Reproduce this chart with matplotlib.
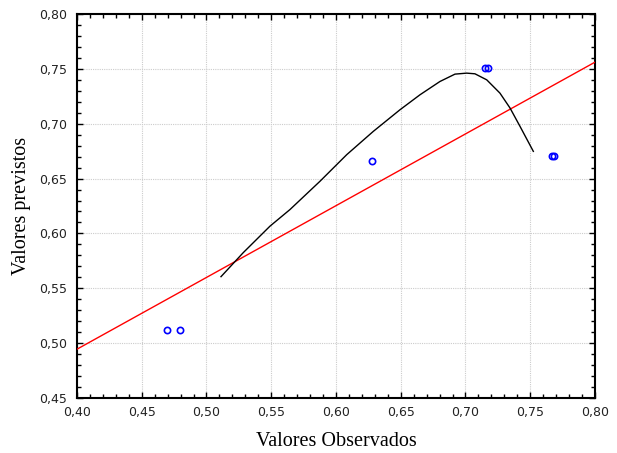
import matplotlib
matplotlib.use('Agg')
import matplotlib.pyplot as plt
import numpy as np
from matplotlib.ticker import MultipleLocator

# observed vs predicted points
obs = [0.4693, 0.4795, 0.6276, 0.7150, 0.7176, 0.7672, 0.7684]
pred = [0.5121, 0.5121, 0.6657, 0.7510, 0.7510, 0.6703, 0.6703]

# fitted curve
curve_x = [0.5112, 0.5284, 0.5490, 0.5645, 0.5876, 0.6083, 0.6288, 0.6494,
           0.6649, 0.6803, 0.6919, 0.7009, 0.7073, 0.7164, 0.7266, 0.7344,
           0.7421, 0.7524]
curve_y = [0.5606, 0.5825, 0.6066, 0.6218, 0.6475, 0.6718, 0.6930, 0.7127,
           0.7264, 0.7385, 0.7452, 0.7461, 0.7455, 0.7400, 0.7279, 0.7143,
           0.6976, 0.6748]

# reference line
line_intercept = 0.4945
line_slope = 0.654
line_x = [0.40, 0.80]

fig = plt.figure(figsize=(6.17, 4.53), dpi=100)
ax = fig.add_axes([0.1248, 0.1214, 0.8395, 0.8477])

lx = np.array(line_x)
ax.plot(lx, line_intercept + line_slope * (lx - 0.40), color='#ff0000', lw=1.0, zorder=3)
ax.plot(curve_x, curve_y, color='black', lw=1.0, zorder=3)
ax.plot(obs, pred, linestyle='none', marker='o', markersize=4.5,
        markerfacecolor='none', markeredgecolor='#0000ff', markeredgewidth=1.2, zorder=4)

ax.set_xlim(0.40, 0.80)
ax.set_ylim(0.45, 0.80)
ax.xaxis.set_major_locator(MultipleLocator(0.05))
ax.yaxis.set_major_locator(MultipleLocator(0.05))
ax.xaxis.set_minor_locator(MultipleLocator(0.01))
ax.yaxis.set_minor_locator(MultipleLocator(0.01))
fmt = lambda v, p: f"{v:.2f}".replace('.', ',')
ax.xaxis.set_major_formatter(plt.FuncFormatter(fmt))
ax.yaxis.set_major_formatter(plt.FuncFormatter(fmt))

ax.tick_params(which='both', direction='in', top=True, right=True, color='black')
ax.tick_params(which='major', length=4, width=1, labelsize=9, labelcolor='#222222')
ax.tick_params(which='minor', length=3, width=1)
ax.tick_params(axis='x', which='major', pad=6)
ax.tick_params(axis='y', which='major', pad=7)

ax.grid(True, which='major', color='#cccccc', linestyle=(0, (1, 1)), lw=0.8)
for s in ax.spines.values():
    s.set_linewidth(1.5)
    s.set_color('black')

ax.set_xlabel('Valores Observados', family='Liberation Serif', fontsize=14.5, labelpad=9)
ax.set_ylabel('Valores previstos', family='Liberation Serif', fontsize=14.5, labelpad=6)

fig.savefig('out.png', dpi=100)
